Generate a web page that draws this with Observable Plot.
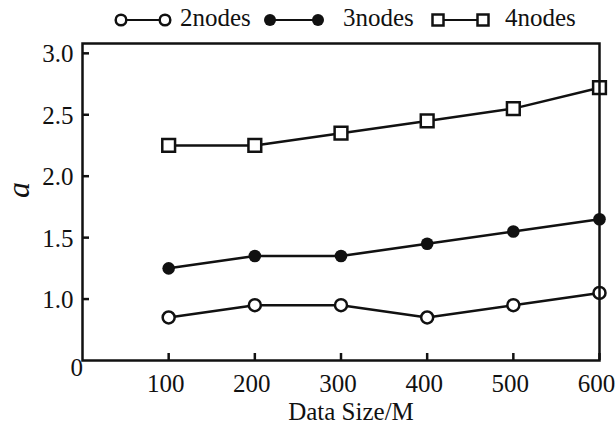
<!DOCTYPE html>
<html>
<head>
<meta charset="utf-8">
<script src="https://cdn.jsdelivr.net/npm/d3@7"></script>
<script src="https://cdn.jsdelivr.net/npm/@observablehq/plot@0.6"></script>
<style>
  html, body { margin: 0; padding: 0; background: #fff; }
  #chart { position: relative; width: 616px; height: 431px; }
  #chart svg { display: block; }
  #legend { position: absolute; left: 0; top: 0; }
</style>
</head>
<body>
<div id="chart"></div>
<script>
// ---- data ----
const dataSizes = [100, 200, 300, 400, 500, 600];
const nodes2 = [0.85, 0.95, 0.95, 0.85, 0.95, 1.05];
const nodes3 = [1.25, 1.35, 1.35, 1.45, 1.55, 1.65];
const nodes4 = [2.25, 2.25, 2.35, 2.45, 2.55, 2.72];
const seriesNames = ["2nodes", "3nodes", "4nodes"];
const xTicks = [100, 200, 300, 400, 500, 600];
const yTicks = [1.0, 1.5, 2.0, 2.5, 3.0];
const xTitle = "Data Size/M";
const yTitle = "a";

const toRows = (vals, name) => dataSizes.map((x, i) => ({x, y: vals[i], series: name}));
const s2 = toRows(nodes2, seriesNames[0]);
const s3 = toRows(nodes3, seriesNames[1]);
const s4 = toRows(nodes4, seriesNames[2]);

const ink = "#111";
const serif = "'Liberation Serif', 'Times New Roman', serif";
const fs = 25;
const W = 616, H = 431;
const mT = 43, mB = 71, mL = 82, mR = 17;
const frameH = H - mT - mB, frameW = W - mL - mR;
const tick = 7;

const chart = Plot.plot({
  width: W, height: H,
  marginTop: mT, marginBottom: mB, marginLeft: mL, marginRight: mR,
  style: {fontFamily: serif, fontSize: fs + "px", color: ink, background: "#fff"},
  x: {domain: [0, 600]},
  y: {domain: [0.5, 3.08]},
  marks: [
    Plot.axisX({ticks: xTicks, tickSize: 0, tickPadding: 14, dx: -3, tickFormat: d => String(d), label: null, fontSize: fs, fontFamily: serif}),
    Plot.axisY({ticks: yTicks, tickSize: 0, tickPadding: 9, dy: 1, tickFormat: d => d.toFixed(1), label: null, fontSize: fs, fontFamily: serif}),
    Plot.tickX(xTicks, {x: d => d, stroke: ink, strokeWidth: 2.5, insetTop: frameH - tick}),
    Plot.tickY(yTicks, {y: d => d, stroke: ink, strokeWidth: 2.5, insetRight: frameW - tick}),
    Plot.line(s2, {x: "x", y: "y", stroke: ink, strokeWidth: 2.5}),
    Plot.line(s3, {x: "x", y: "y", stroke: ink, strokeWidth: 2.5}),
    Plot.line(s4, {x: "x", y: "y", stroke: ink, strokeWidth: 2.5}),
    Plot.dot(s2, {x: "x", y: "y", r: 6, fill: "#fff", stroke: ink, strokeWidth: 2.5}),
    Plot.dot(s3, {x: "x", y: "y", r: 6.3, fill: ink, stroke: "none"}),
    Plot.dot(s4, {x: "x", y: "y", symbol: "square", r: 7.2, fill: "#fff", stroke: ink, strokeWidth: 2.5}),
    Plot.text(["0"], {frameAnchor: "bottom-left", dx: -12, dy: 15, fontSize: fs, fontFamily: serif, fill: ink}),
    Plot.text([xTitle], {frameAnchor: "bottom", dx: 10, dy: 59, fontSize: fs, fontFamily: serif, fill: ink}),
    Plot.text([yTitle], {frameAnchor: "left", dx: -64, dy: -4, rotate: -90, fontSize: 32, fontStyle: "italic", fontFamily: serif, fill: ink}),
    Plot.frame({stroke: ink, strokeWidth: 2.5})
  ]
});
document.getElementById("chart").appendChild(chart);

// ---- legend ----
const legendPos = [
  {x1: 121, x2: 165, tx: 180},
  {x1: 270, x2: 318, tx: 343},
  {x1: 438, x2: 483, tx: 505}
];
const ly = 20;
const leg = d3.select("#chart").append("svg")
  .attr("id", "legend").attr("width", W).attr("height", 40)
  .style("font-family", serif)
  .style("font-size", fs + "px");
seriesNames.forEach((name, i) => {
  const p = legendPos[i];
  const g = leg.append("g");
  g.append("line").attr("x1", p.x1).attr("x2", p.x2).attr("y1", ly).attr("y2", ly)
    .attr("stroke", ink).attr("stroke-width", 2.2);
  [p.x1, p.x2].forEach(cx => {
    if (i === 0) {
      g.append("circle").attr("cx", cx).attr("cy", ly).attr("r", 5.3)
        .attr("fill", "#fff").attr("stroke", ink).attr("stroke-width", 2.5);
    } else if (i === 1) {
      g.append("circle").attr("cx", cx).attr("cy", ly).attr("r", 6).attr("fill", ink);
    } else {
      g.append("rect").attr("x", cx - 5.5).attr("y", ly - 5.5).attr("width", 11).attr("height", 11)
        .attr("fill", "#fff").attr("stroke", ink).attr("stroke-width", 2.5);
    }
  });
  g.append("text").attr("x", p.tx).attr("y", 26).attr("fill", ink).text(name);
});
</script>
</body>
</html>
